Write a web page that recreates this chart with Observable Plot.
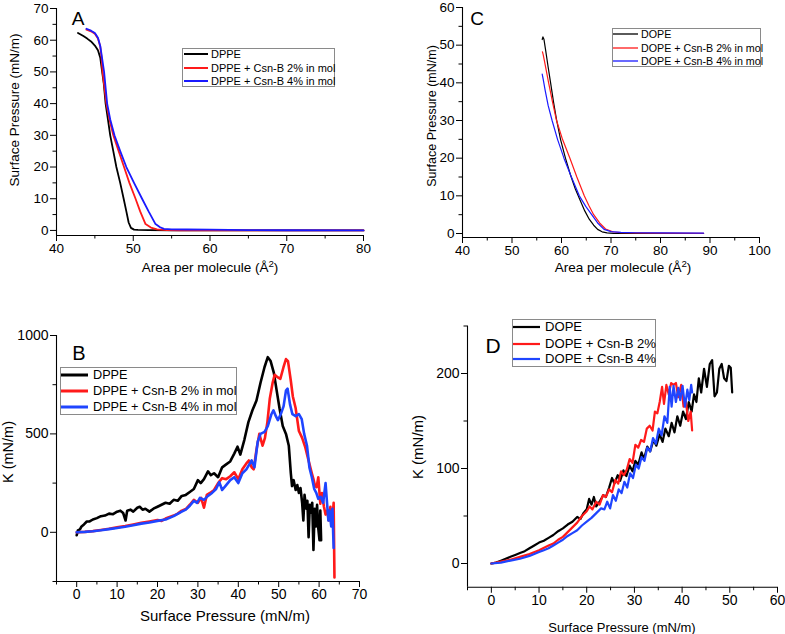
<!DOCTYPE html>
<html>
<head>
<meta charset="utf-8">
<script src="https://cdn.jsdelivr.net/npm/d3@7"></script>
<script src="https://cdn.jsdelivr.net/npm/@observablehq/plot@0.6"></script>
<style>
  body { margin: 0; background: #fff; font-family: "Liberation Sans", Arial, Helvetica, sans-serif; }
  #fig { position: relative; width: 785px; height: 634px; overflow: hidden; background: #fff; }
  #fig > * { position: absolute; }
  .ttl { white-space: nowrap; color: #000; line-height: 1; }
  .ttl sup { font-size: 0.72em; vertical-align: 0.55em; line-height: 0; }
  .lgbox { border: 1px solid #8a8a8a; background: #fff; box-sizing: border-box; }
  .lgtext { white-space: nowrap; color: #000; line-height: 1; transform: translateY(-50%); }
</style>
</head>
<body>
<div id="fig"></div>
<script>
// ---------- Panel A: DPPE isotherms (area per molecule vs surface pressure) ----------
const aArea_DPPE = [42.8, 43.5, 44.0, 44.5, 45.0, 45.4, 45.7, 45.95, 46.15, 46.4, 46.7, 47.0, 47.4, 47.8, 48.3, 48.75, 49.1, 49.4, 49.7, 50.1, 50.6, 52, 55, 60, 70, 80];
const aPi_DPPE   = [62.3, 61.3, 60.5, 59.6, 58.3, 56.8, 54.5, 50.0, 46.5, 40.0, 35.0, 30.0, 25.0, 20.0, 15.0, 10.0, 6.0, 2.5, 0.8, 0.25, 0.15, 0.1, 0.05, 0.02, 0, 0];
const aArea_2 = [43.9, 44.5, 45.0, 45.4, 45.7, 45.85, 46.0, 46.25, 46.5, 46.9, 47.4, 48.1, 48.8, 49.5, 50.3, 50.9, 51.6, 52.3, 53.1, 54.4, 56, 60, 70, 80];
const aPi_2   = [63.3, 62.8, 62.0, 60.5, 58.0, 55.0, 50.0, 45.0, 40.0, 35.0, 30.0, 25.0, 20.0, 15.0, 10.0, 6.0, 2.0, 0.9, 0.35, 0.1, 0.05, 0.02, 0, 0];
const aArea_4 = [43.9, 44.5, 45.0, 45.4, 45.7, 45.9, 46.2, 46.4, 46.6, 47.0, 47.55, 48.3, 49.1, 50.1, 51.15, 52.0, 52.9, 53.5, 54.0, 55, 57, 60, 65, 70, 80];
const aPi_4   = [63.6, 63.0, 62.3, 60.8, 58.2, 55.0, 50.0, 45.0, 40.0, 35.0, 30.0, 25.0, 20.0, 15.0, 10.0, 6.0, 2.0, 1.0, 0.5, 0.35, 0.3, 0.25, 0.1, 0.05, 0];

// ---------- Panel C: DOPE isotherms ----------
const cArea_DOPE = [56.1, 56.25, 56.45, 56.8, 57.3, 57.8, 58.4, 59.0, 59.8, 60.8, 61.8, 62.8, 63.7, 64.7, 65.6, 66.5, 67.3, 68.2, 69.2, 70.5, 75, 88.7];
const cPi_DOPE   = [51.5, 52.2, 51.6, 48.6, 44.2, 40.0, 34.8, 30.2, 25.0, 20.0, 15.6, 11.8, 9.0, 6.0, 3.8, 2.2, 1.1, 0.45, 0.15, 0.05, 0, 0];
const cArea_2 = [56.15, 56.3, 56.6, 57.4, 58.2, 59.0, 60.2, 61.7, 63.1, 64.6, 65.5, 66.5, 67.7, 68.9, 70.5, 72, 75, 80, 88.7];
const cPi_2   = [48.2, 47.5, 45.5, 40.0, 34.8, 30.0, 25.0, 20.0, 15.0, 10.0, 7.5, 5.0, 2.8, 1.2, 0.4, 0.25, 0.15, 0.1, 0.05];
const cArea_4 = [56.1, 56.3, 56.7, 57.3, 58.1, 59.2, 60.5, 62.0, 63.6, 64.9, 66.1, 67.3, 68.6, 70.0, 72, 75, 80, 88.7];
const cPi_4   = [42.3, 41.0, 38.0, 34.0, 30.0, 25.0, 20.0, 15.0, 10.0, 7.2, 5.0, 2.8, 1.1, 0.5, 0.3, 0.2, 0.15, 0.1];

// ---------- Panel B: compressional modulus, DPPE series ----------
const bPi_DPPE = [0, 0.3, 0.8, 1.2, 1.8, 2.5, 3.2, 4, 5, 6, 7, 8, 9, 10, 10.8, 11.5, 12.1, 12.5, 13.3, 14, 15, 15.6, 16.3, 17, 18, 19, 20, 21, 22, 23, 24, 25, 26, 27, 28, 29, 30, 30.7, 31.5, 32.5, 33.2, 34, 35, 36, 37, 38, 39, 39.8, 40.5, 41.5, 42.5, 43.5, 44.5, 45.5, 46.5, 47.3, 48, 48.8, 49.5, 50.2, 51, 51.8, 52.5, 53.0, 53.3, 53.7, 54.2, 54.6, 55.0, 55.4, 55.8, 56.1, 56.4, 56.8, 57.1, 57.4, 57.7, 58.0, 58.3, 58.6, 58.9, 59.2, 59.5, 59.8, 60.1, 60.3, 60.5];
const bK_DPPE  = [-15, 10, 15, 30, 40, 55, 55, 65, 72, 82, 85, 95, 92, 105, 110, 98, 60, 110, 115, 105, 125, 130, 115, 120, 105, 120, 130, 140, 150, 145, 165, 160, 185, 190, 205, 220, 265, 250, 270, 310, 290, 300, 280, 330, 345, 360, 400, 435, 395, 470, 560, 620, 670, 760, 840, 890, 870, 810, 720, 630, 540, 500, 440, 300, 235, 265, 215, 240, 200, 225, 150, 60, 190, 120, 160, -25, 140, 100, 150, -90, 120, 30, 140, 20, -40, 110, -40];
const bPi_2 = [0, 2, 4, 6, 8, 10, 12, 14, 16, 18, 20, 21, 22, 23, 24, 25, 26, 27, 28, 29, 30, 30.8, 31.5, 32.2, 33, 34, 35, 36, 37, 38, 39, 40, 41, 42, 42.6, 43.3, 43.8, 44.5, 45.2, 46, 46.6, 47.2, 47.8, 48.5, 49.0, 49.6, 50.4, 51.2, 51.8, 52.3, 53, 53.5, 54.2, 55, 55.8, 56.6, 57.4, 58.2, 58.6, 59.0, 59.4, 59.8, 60.3, 60.7, 61.2, 61.6, 62, 62.4, 62.8, 63.2, 63.6, 63.8];
const bK_2  = [0, 2, 6, 12, 18, 25, 32, 40, 48, 55, 62, 58, 70, 78, 85, 95, 110, 118, 140, 165, 150, 175, 125, 190, 200, 215, 250, 275, 270, 285, 305, 270, 320, 350, 365, 330, 320, 420, 500, 440, 480, 560, 680, 760, 800, 790, 780, 840, 880, 870, 770, 690, 630, 515, 480, 430, 364, 300, 270, 235, 230, 280, 145, 200, 130, 90, 110, 60, 130, 40, 150, -230];
const bPi_4 = [0, 2, 4, 6, 8, 10, 12, 14, 16, 18, 20, 22, 24, 26, 27, 28, 29, 29.8, 30.5, 31.5, 32.5, 33.5, 34.5, 35.3, 36, 37, 38, 39, 40, 41, 42, 43.3, 44, 44.8, 45.5, 46.5, 47.3, 48.2, 48.7, 49.3, 49.8, 50.5, 51.2, 51.8, 52.2, 52.8, 53.4, 54.2, 55, 55.7, 56.3, 57, 57.6, 58.2, 58.8, 59.3, 59.8, 60.4, 61, 61.6, 62.0, 62.3, 62.6, 63, 63.3, 63.6];
const bK_4  = [0, 2, 5, 10, 16, 22, 28, 36, 44, 50, 58, 65, 82, 105, 115, 135, 160, 150, 175, 165, 185, 200, 220, 255, 215, 240, 265, 280, 250, 300, 320, 365, 330, 460, 500, 510, 540, 600, 620, 590, 570, 600, 640, 720, 730, 650, 600, 590, 600, 575, 500, 440, 330, 280, 220, 200, 170, 180, 150, 250, 140, 60, 110, 30, 120, -80];

// ---------- Panel D: compressional modulus, DOPE series ----------
const dPi_DOPE = [0, 1, 2, 3, 4, 5, 6, 7, 8, 9, 10, 11, 12, 13, 14, 15, 16, 17, 18, 18.7, 19.3, 20, 20.5, 21, 21.5, 22, 22.8, 23.5, 24, 24.7, 25.3, 25.8, 26.5, 27, 27.7, 28.3, 29, 29.6, 30.2, 30.8, 31.5, 32, 32.7, 33.3, 34, 34.6, 35.3, 35.9, 36.5, 37.2, 37.8, 38.4, 39, 39.6, 40.2, 40.8, 41.4, 42, 42.5, 43, 43.5, 44, 44.6, 45.2, 45.8, 46.3, 46.8, 47.3, 47.8, 48.3, 48.8, 49.3, 49.8, 50.2, 50.5];
const dK_DOPE  = [0, 1, 3, 5, 7, 9, 11, 13, 16, 19, 22, 24, 27, 30, 34, 37, 41, 44, 49, 47, 53, 57, 68, 62, 70, 60, 66, 72, 70, 80, 90, 84, 93, 87, 98, 92, 103, 97, 108, 104, 117, 110, 123, 118, 130, 124, 136, 128, 142, 134, 148, 138, 155, 145, 160, 152, 170, 160, 178, 170, 195, 180, 205, 186, 210, 214, 176, 180, 205, 210, 195, 192, 208, 206, 180];
const dPi_2 = [0, 2, 4, 6, 8, 10, 12, 13, 14, 15, 16, 17, 18, 19, 20, 20.6, 21.2, 22, 22.7, 23.4, 24, 24.7, 25.3, 26, 26.6, 27.2, 27.8, 28.4, 29, 29.6, 30.2, 30.8, 31.4, 32, 32.6, 33.2, 33.8, 34.3, 34.8, 35.3, 35.8, 36.2, 36.7, 37.2, 37.7, 38.2, 38.7, 39.2, 39.8, 40.3, 40.8, 41.3, 41.8, 42.1];
const dK_2  = [0, 2, 4, 7, 10, 14, 19, 21, 25, 28, 33, 38, 43, 50, 55, 60, 57, 65, 62, 72, 70, 78, 75, 88, 84, 97, 93, 99, 110, 106, 125, 122, 130, 128, 142, 145, 140, 160, 158, 170, 186, 168, 188, 178, 190, 188, 190, 175, 188, 165, 170, 150, 160, 140];
const dPi_4 = [0, 2, 4, 6, 8, 10, 11, 12, 13, 14, 15, 16, 17, 18, 19, 20, 21, 22, 23, 23.7, 24.3, 24.9, 25.5, 26.1, 26.7, 27.3, 27.9, 28.5, 29.1, 29.7, 30.3, 30.9, 31.5, 32.1, 32.7, 33.3, 33.9, 34.5, 35.1, 35.7, 36.3, 36.9, 37.4, 37.8, 38.2, 38.7, 39.2, 39.6, 40.1, 40.6, 41.1, 41.5, 41.9, 42.1];
const dK_4  = [0, 1, 3, 5, 8, 12, 14, 16, 19, 22, 25, 29, 32, 35, 40, 44, 48, 53, 58, 57, 65, 58, 72, 66, 78, 74, 86, 80, 95, 90, 104, 100, 112, 108, 122, 118, 132, 126, 142, 135, 155, 148, 186, 165, 187, 170, 185, 172, 187, 165, 183, 172, 188, 180];

// ---------- Ticks ----------
const aXTicks = [40, 50, 60, 70, 80], aXMinor = [45, 55, 65, 75];
const aYTicks = [0, 10, 20, 30, 40, 50, 60, 70], aYMinor = [5, 15, 25, 35, 45, 55, 65];
const cXTicks = [40, 50, 60, 70, 80, 90, 100], cXMinor = [45, 55, 65, 75, 85, 95];
const cYTicks = [0, 10, 20, 30, 40, 50, 60], cYMinor = [5, 15, 25, 35, 45, 55];
const bXTicks = [0, 10, 20, 30, 40, 50, 60, 70], bXMinor = [-5, 5, 15, 25, 35, 45, 55, 65];
const bYTicks = [0, 500, 1000], bYMinor = [-250, 250, 750];
const dXTicks = [0, 10, 20, 30, 40, 50, 60], dXMinor = [-5, 5, 15, 25, 35, 45, 55];
const dYTicks = [0, 100, 200], dYMinor = [50, 150, 250];

// ---------- Series names ----------
const aNames = ["DPPE", "DPPE + Csn-B 2% in mol", "DPPE + Csn-B 4% in mol"];
const cNames = ["DOPE", "DOPE + Csn-B 2% in mol", "DOPE + Csn-B 4% in mol"];
const bNames = ["DPPE", "DPPE + Csn-B 2% in mol", "DPPE + Csn-B 4% in mol"];
const dNames = ["DOPE", "DOPE + Csn-B 2%", "DOPE + Csn-B 4%"];

const FONT = '"Liberation Sans", Arial, Helvetica, sans-serif';
const zip = (xs, ys) => xs.map((x, i) => ({x, y: ys[i]}));
const fig = document.getElementById("fig");

function panel(p) {
  const [mt, mr, mb, ml] = p.margin;
  const marks = [
    Plot.ruleX([p.x[0]], {stroke: "black", strokeWidth: 1.1}),
    Plot.ruleY([p.y[0]], {stroke: "black", strokeWidth: 1.1}),
    Plot.axisX({ticks: p.xMajor, tickSize: 6, tickPadding: 2, label: null, fontSize: p.fs, tickFormat: d => String(d)}),
    Plot.axisX({ticks: p.xMinor, tickSize: 3.5, label: null, tickFormat: () => ""}),
    Plot.axisY({ticks: p.yMajor, tickSize: 6, tickPadding: 2, label: null, fontSize: p.fs, tickFormat: d => String(d)}),
    Plot.axisY({ticks: p.yMinor, tickSize: 3.5, label: null, tickFormat: () => ""}),
    ...p.series.map(s => Plot.line(s.data, {x: "x", y: "y", stroke: s.color, strokeWidth: p.sw, strokeLinejoin: "round"}))
  ];
  const svg = Plot.plot({
    width: p.width, height: p.height,
    marginTop: mt, marginRight: mr, marginBottom: mb, marginLeft: ml,
    x: {domain: p.x}, y: {domain: p.y},
    style: {fontFamily: FONT, fontSize: p.fs + "px", color: "black", background: "transparent", overflow: "visible"},
    marks
  });
  svg.style.left = p.left + "px";
  svg.style.top = p.top + "px";
  fig.appendChild(svg);
}

function text(html, cx, cy, size, rotate = false) {
  const el = document.createElement("div");
  el.className = "ttl";
  el.innerHTML = html;
  el.style.fontSize = size + "px";
  el.style.left = cx + "px";
  el.style.top = cy + "px";
  el.style.transform = "translate(-50%, -50%)" + (rotate ? " rotate(-90deg)" : "");
  fig.appendChild(el);
}

function legend(l) {
  const box = document.createElement("div");
  box.className = "lgbox";
  Object.assign(box.style, {left: l.box[0] + "px", top: l.box[1] + "px", width: l.box[2] + "px", height: l.box[3] + "px"});
  fig.appendChild(box);
  const ns = "http://www.w3.org/2000/svg";
  l.names.forEach((name, i) => {
    const y = l.rows[i];
    const s = document.createElementNS(ns, "svg");
    s.setAttribute("width", l.sample[1] - l.sample[0]);
    s.setAttribute("height", 8);
    s.style.position = "absolute";
    s.style.left = l.sample[0] + "px";
    s.style.top = (y - 4) + "px";
    const ln = document.createElementNS(ns, "line");
    ln.setAttribute("x1", 0); ln.setAttribute("x2", l.sample[1] - l.sample[0]);
    ln.setAttribute("y1", 4); ln.setAttribute("y2", 4);
    ln.setAttribute("stroke", l.colors[i]); ln.setAttribute("stroke-width", l.sw);
    s.appendChild(ln);
    fig.appendChild(s);
    const t = document.createElement("div");
    t.className = "lgtext";
    t.textContent = name;
    Object.assign(t.style, {left: l.textX + "px", top: y + "px", fontSize: l.size + "px"});
    fig.appendChild(t);
  });
}

const colorsAC = ["#000000", "#ff1a1a", "#1a1aff"];
const colorsBD = ["#000000", "#ff1a1a", "#1f45ff"];

// Panel A
panel({left: 0, top: 2, width: 400, height: 288, margin: [6, 37, 55, 56], fs: 13.5,
  x: [40, 80], y: [-1.6, 70], xMajor: aXTicks, xMinor: aXMinor, yMajor: aYTicks, yMinor: aYMinor, sw: 1.8,
  series: [
    {data: zip(aArea_DPPE, aPi_DPPE), color: colorsAC[0]},
    {data: zip(aArea_2, aPi_2), color: colorsAC[1]},
    {data: zip(aArea_4, aPi_4), color: colorsAC[2]}
  ]});
// Panel C
panel({left: 400, top: 2, width: 385, height: 288, margin: [5, 26, 53, 62], fs: 13.5,
  x: [40, 100], y: [-1.06, 60], xMajor: cXTicks, xMinor: cXMinor, yMajor: cYTicks, yMinor: cYMinor, sw: 1.2,
  series: [
    {data: zip(cArea_DOPE, cPi_DOPE), color: colorsAC[0]},
    {data: zip(cArea_2, cPi_2), color: colorsAC[1]},
    {data: zip(cArea_4, cPi_4), color: colorsAC[2]}
  ]});
// Panel B
panel({left: 0, top: 300, width: 400, height: 334, margin: [35, 41, 53, 56], fs: 14,
  x: [-5, 70], y: [-250, 1000], xMajor: bXTicks, xMinor: bXMinor, yMajor: bYTicks, yMinor: bYMinor, sw: 2.6,
  series: [
    {data: zip(bPi_DPPE, bK_DPPE), color: colorsBD[0]},
    {data: zip(bPi_2, bK_2), color: colorsBD[1]},
    {data: zip(bPi_4, bK_4), color: colorsBD[2]}
  ]});
// Panel D
panel({left: 400, top: 300, width: 385, height: 334, margin: [25.5, 8, 47.25, 67], fs: 14,
  x: [-5, 60], y: [-25, 250], xMajor: dXTicks, xMinor: dXMinor, yMajor: dYTicks, yMinor: dYMinor, sw: 2.2,
  series: [
    {data: zip(dPi_DOPE, dK_DOPE), color: colorsBD[0]},
    {data: zip(dPi_2, dK_2), color: colorsBD[1]},
    {data: zip(dPi_4, dK_4), color: colorsBD[2]}
  ]});

// Axis titles
text("Surface Pressure (mN/m)", 15, 110, 13.5, true);
text("Area per molecule (Å<sup>2</sup>)", 210, 268, 13.5);
text("Surface Pressure (mN/m)", 432, 116, 12.5, true);
text("Area per molecule (Å<sup>2</sup>)", 623, 268, 13.5);
text("K (mN/m)", 8, 452, 14.5, true);
text("Surface Pressure (mN/m)", 225, 615, 15);
text("K (mN/m)", 417, 447, 15, true);
text("Surface Pressure (mN/m)", 622, 627, 13);

// Panel letters
text("A", 78, 18, 19);
text("C", 477, 18, 19);
text("B", 79, 353, 20);
text("D", 493, 345, 21);

// Legends
legend({box: [182, 48, 153, 39], rows: [54, 67.5, 81], sample: [184, 208], textX: 211, size: 11, sw: 2, names: aNames, colors: colorsAC});
legend({box: [612, 28, 149, 39], rows: [34, 47.5, 61], sample: [613, 638], textX: 641, size: 10.7, sw: 1.3, names: cNames, colors: colorsAC});
legend({box: [60, 367, 177, 48], rows: [375, 391, 407], sample: [61, 88], textX: 93, size: 12.7, sw: 3, names: bNames, colors: colorsBD});
legend({box: [512, 319, 144, 48], rows: [327, 343.5, 359], sample: [513, 540], textX: 545, size: 13.1, sw: 2.2, names: dNames, colors: colorsBD});
</script>
</body>
</html>
